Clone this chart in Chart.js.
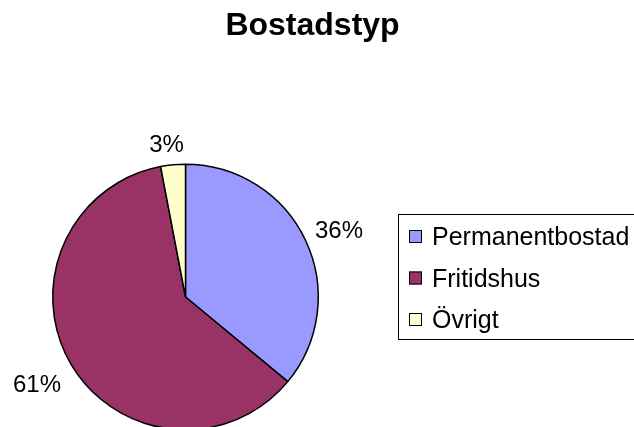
<!DOCTYPE html>
<html>
<head>
<meta charset="utf-8">
<script src="https://cdn.jsdelivr.net/npm/chart.js@4.4.0/dist/chart.umd.min.js"></script>
<style>
  html, body { margin: 0; padding: 0; background: #fff; overflow: hidden; }
  #wrap { width: 634px; height: 427px; overflow: hidden; }
</style>
</head>
<body>
<div id="wrap"><canvas id="myChart" width="634" height="440"></canvas></div>
<script>
const title = 'Bostadstyp';
const labels = ['Permanentbostad', 'Fritidshus', 'Övrigt'];
const values = [36, 61, 3];
const colors = ['#9999FF', '#993366', '#FFFFCC'];

// where the percentage labels sit (center x, baseline y), per slice
const labelPos = [[339, 238], [37, 392], [166.5, 152]];

const extras = {
    id: 'extras',
    afterDraw(chart) {
        const ctx = chart.ctx;
        const total = values.reduce((a, b) => a + b, 0);
        ctx.save();
        ctx.fillStyle = '#000';
        ctx.textAlign = 'center';
        ctx.textBaseline = 'alphabetic';
        ctx.font = 'bold 32px "Liberation Sans", Arial, sans-serif';
        ctx.fillText(title, 312.5, 35);

        ctx.font = '24px "Liberation Sans", Arial, sans-serif';
        values.forEach((v, i) => {
            const pct = Math.round(v / total * 100) + '%';
            ctx.fillText(pct, labelPos[i][0], labelPos[i][1]);
        });

        // legend box
        ctx.strokeStyle = '#000';
        ctx.lineWidth = 1;
        ctx.strokeRect(398.5, 214.5, 250, 125);
        ctx.textAlign = 'left';
        ctx.font = '25px "Liberation Sans", Arial, sans-serif';
        labels.forEach((l, i) => {
            const y = 245 + i * 41.5;
            ctx.fillStyle = colors[i];
            ctx.fillRect(409, y - 15, 13, 13);
            ctx.strokeRect(409.5, y - 14.5, 12, 12);
            ctx.fillStyle = '#000';
            ctx.fillText(l, 432, y);
        });
        ctx.restore();
    }
};

new Chart(document.getElementById('myChart').getContext('2d'), {
    type: 'pie',
    data: {
        labels: labels,
        datasets: [{
            data: values,
            backgroundColor: colors,
            borderColor: '#000',
            borderWidth: 1.5
        }]
    },
    options: {
        responsive: false,
        animation: false,
        layout: { padding: { left: 52, right: 315, top: 163, bottom: 9 } },
        plugins: {
            legend: { display: false },
            title: { display: false },
            tooltip: { enabled: false }
        }
    },
    plugins: [extras]
});
</script>
</body>
</html>
